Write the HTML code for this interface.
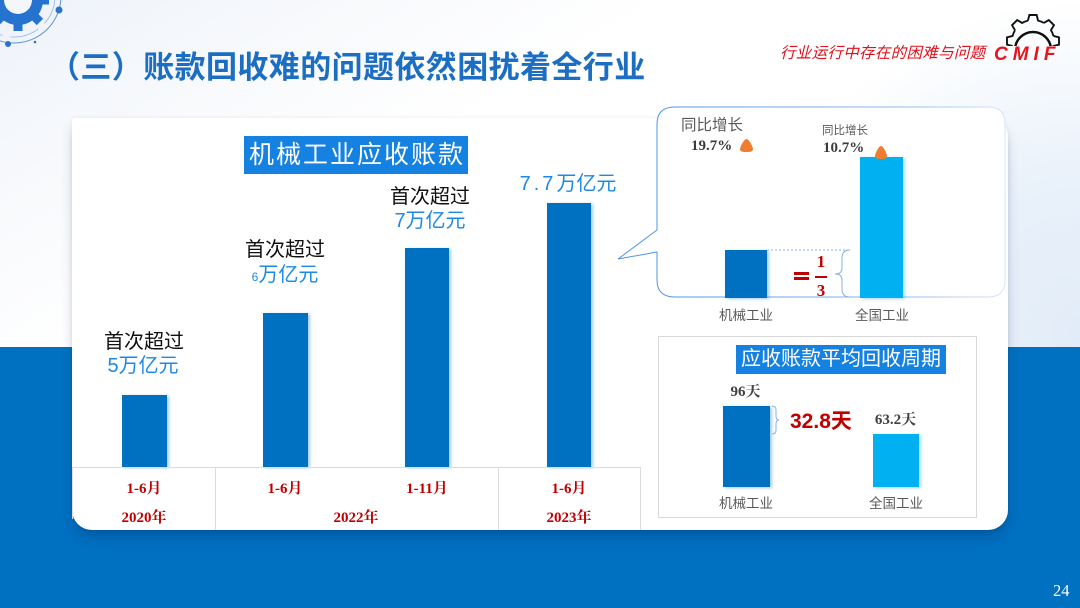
<!DOCTYPE html>
<html><head><meta charset="utf-8">
<style>
*{margin:0;padding:0;box-sizing:border-box}
html,body{width:1080px;height:608px;overflow:hidden}
body{position:relative;background:#fff;font-family:"Liberation Sans","Noto Sans CJK SC",sans-serif}
.a{position:absolute;white-space:nowrap;line-height:1}
.c{text-align:center}
.sf{font-family:"Liberation Serif","Noto Serif CJK SC",serif;font-weight:bold}
.bar{position:absolute;background:#0070c0;box-shadow:2px 1px 3px rgba(90,160,230,.55)}
.lbar{position:absolute;background:#00b0f0;box-shadow:2px 1px 3px rgba(90,180,240,.5)}
.ln{position:absolute;background:#dcdcdc}
.t1{font-size:20px;color:#111}
.t2{font-size:20px;color:#1e88e5}
.tb{font-size:15px;color:#c00000}
.gl{font-size:13.5px;color:#595959}
</style></head><body>
<!-- background -->
<div class="a" style="left:0;top:0;width:1080px;height:347px;background:radial-gradient(circle at 1080px 330px,#e2ecf8 0px,#e9f1fa 150px,rgba(255,255,255,0) 330px),linear-gradient(150deg,#eef3fa 0%,#f7f9fc 20%,#fff 40%)"></div>
<div class="a" style="left:0;top:347px;width:1080px;height:261px;background:#0070c0"></div>

<!-- top-left decoration -->
<svg class="a" style="left:0;top:0" width="90" height="60">
 <circle cx="14" cy="-4" r="47" fill="none" stroke="#5d93dc" stroke-width="1"/>
 <circle cx="14" cy="-4" r="41" fill="none" stroke="#8db4e8" stroke-width="0.8" stroke-dasharray="30 8"/>
 <g transform="translate(18,0)" fill="#2672cf">
  <circle r="25"/>
  <rect x="-4.5" y="-31" width="9" height="9" transform="rotate(0)"/>
  <rect x="-4.5" y="-31" width="9" height="9" transform="rotate(45)"/>
  <rect x="-4.5" y="-31" width="9" height="9" transform="rotate(90)"/>
  <rect x="-4.5" y="-31" width="9" height="9" transform="rotate(135)"/>
  <rect x="-4.5" y="-31" width="9" height="9" transform="rotate(180)"/>
  <rect x="-4.5" y="-31" width="9" height="9" transform="rotate(225)"/>
  <rect x="-4.5" y="-31" width="9" height="9" transform="rotate(270)"/>
  <circle r="14" fill="#f3f7fc"/>
 </g>
 <circle cx="59" cy="10" r="3.5" fill="#2a72cc"/>
 <circle cx="8" cy="44" r="3" fill="#2a72cc"/>
 <circle cx="35" cy="42" r="1.3" fill="#2a72cc"/>
</svg>

<!-- title -->
<div class="a" style="left:49px;top:52px;font-size:31px;letter-spacing:0.4px;font-weight:bold;color:#1b6ec2">（三）账款回收难的问题依然困扰着全行业</div>
<div class="a" style="left:780px;top:46px;font-size:15.5px;font-style:italic;letter-spacing:0.3px;color:#e0101a">行业运行中存在的困难与问题</div>

<!-- CMIF logo -->
<svg class="a" style="left:990px;top:8px" width="90" height="60">
 <defs>
  <clipPath id="cp"><rect x="0" y="0" width="90" height="38"/></clipPath>
  <path id="tooth" d="M-4.84,-19.41 L-3.48,-24.76 L3.48,-24.76 L4.84,-19.41 A20,20 0 0 1 10.30,-17.14" fill="none" stroke="#111" stroke-width="1.8"/>
 </defs>
 <g clip-path="url(#cp)">
  <g transform="translate(43,33) scale(1.05)">
   <use href="#tooth"/>
   <use href="#tooth" transform="rotate(45)"/>
   <use href="#tooth" transform="rotate(90)"/>
   <use href="#tooth" transform="rotate(135)"/>
   <use href="#tooth" transform="rotate(180)"/>
   <use href="#tooth" transform="rotate(225)"/>
   <use href="#tooth" transform="rotate(270)"/>
   <use href="#tooth" transform="rotate(315)"/>
  </g>
  <path d="M25,42 A18,18 0 0 1 61,42" fill="none" stroke="#111" stroke-width="2.5"/>
 </g>
</svg>
<div class="a" style="left:994px;top:45px;font-size:19px;font-weight:bold;font-style:italic;letter-spacing:5px;color:#e8141c;font-family:'Liberation Sans',sans-serif">CMIF</div>

<!-- card -->
<div class="a" style="left:72px;top:118px;width:936px;height:412px;background:#fff;border-radius:3px 18px 20px 20px;box-shadow:0 0 4px rgba(0,0,0,.06),0 8px 14px -4px rgba(0,30,80,.35)"></div>

<!-- bubble -->
<svg class="a" style="left:0;top:0" width="1080" height="608">
 <defs>
  <linearGradient id="bs" x1="657" y1="0" x2="1005" y2="0" gradientUnits="userSpaceOnUse">
   <stop offset="0" stop-color="#4f95e6"/>
   <stop offset="0.7" stop-color="#8cb9ee"/>
   <stop offset="1" stop-color="#d8e6f6"/>
  </linearGradient>
 </defs>
 <path d="M675,107 H988 Q1005,107 1005,124 V280 Q1005,297 988,297 H675 Q657,297 657,280 V252 L618,259 L657,230 V124 Q657,107 675,107 Z" fill="#fff" stroke="url(#bs)" stroke-width="1"/>
 <line x1="767" y1="250" x2="850" y2="250" stroke="#8ab4e8" stroke-width="1" stroke-dasharray="2 2"/>
 <path d="M850,250 Q842,250 842,258 V268 Q842,274 835,274 Q842,274 842,280 V289 Q842,297 850,297" fill="none" stroke="#8ab0e0" stroke-width="1"/>
 <rect x="794" y="272" width="15" height="3" fill="#c00000"/>
 <rect x="794" y="277" width="15" height="3" fill="#c00000"/>
 <rect x="815" y="276" width="12" height="2" fill="#c00000"/>
</svg>

<!-- main title box -->
<div class="a c" style="left:244px;top:136px;width:224px;height:38px;line-height:38px;background:#1582e2;color:#fff;font-size:25px;letter-spacing:2px;padding-left:2px">机械工业应收账款</div>

<!-- main bars -->
<div class="bar" style="left:122px;top:395px;width:45px;height:72px"></div>
<div class="bar" style="left:263px;top:313px;width:45px;height:154px"></div>
<div class="bar" style="left:405px;top:248px;width:44px;height:219px"></div>
<div class="bar" style="left:547px;top:203px;width:44px;height:264px"></div>

<!-- main labels -->
<div class="a c t1" style="left:44px;top:332px;width:200px">首次超过</div>
<div class="a c t2" style="left:43px;top:356px;width:200px">5万亿元</div>
<div class="a c t1" style="left:185px;top:240px;width:200px">首次超过</div>
<div class="a c t2" style="left:185px;top:265px;width:200px"><span style="font-size:12px">6</span>万亿元</div>
<div class="a c t1" style="left:330px;top:187px;width:200px">首次超过</div>
<div class="a c t2" style="left:330px;top:211px;width:200px">7万亿元</div>
<div class="a c t2" style="left:468px;top:174px;width:200px"><span style="letter-spacing:3px">7.7</span>万亿元</div>

<!-- table -->
<div class="ln" style="left:72px;top:467px;width:568px;height:1px"></div>
<div class="ln" style="left:72px;top:467px;width:1px;height:52px"></div>
<div class="ln" style="left:215px;top:467px;width:1px;height:63px"></div>
<div class="ln" style="left:498px;top:467px;width:1px;height:63px"></div>
<div class="ln" style="left:640px;top:467px;width:1px;height:63px"></div>

<div class="a c sf tb" style="left:94px;top:481.5px;width:100px">1-6月</div>
<div class="a c sf tb" style="left:235px;top:481.5px;width:100px">1-6月</div>
<div class="a c sf tb" style="left:377px;top:481.5px;width:100px">1-11月</div>
<div class="a c sf tb" style="left:519px;top:481.5px;width:100px">1-6月</div>
<div class="a c sf tb" style="left:94px;top:510.5px;width:100px">2020年</div>
<div class="a c sf tb" style="left:306px;top:510.5px;width:100px">2022年</div>
<div class="a c sf tb" style="left:519px;top:510.5px;width:100px">2023年</div>

<!-- panel 1 content -->
<div class="a" style="left:681px;top:118px;font-size:15.5px;color:#595959">同比增长</div>
<div class="a sf" style="left:691px;top:138.5px;font-size:15px;color:#3a3a3a">19.7%</div>
<div class="a" style="left:822px;top:126px;font-size:11.5px;color:#595959">同比增长</div>
<div class="a sf" style="left:823px;top:141px;font-size:15px;color:#3a3a3a">10.7%</div>
<div class="bar" style="left:725px;top:250px;width:42px;height:48px"></div>
<div class="lbar" style="left:860px;top:157px;width:43px;height:141px"></div>
<svg class="a" style="left:0;top:0" width="1080" height="608">
 <path d="M746.5,139 C749,139 753,147 753,149 C753,151.5 751,152 746.5,152 C742,152 740,151.5 740,149 C740,147 744,139 746.5,139 Z" fill="#ed7d31"/>
 <path d="M881,146 C883.5,146 887,154 887,156 C887,158.5 885,159 881,159 C877,159 875,158.5 875,156 C875,154 878.5,146 881,146 Z" fill="#ed7d31"/>
</svg>
<div class="a c sf" style="left:811px;top:253px;width:20px;font-size:17px;color:#c00000">1</div>
<div class="a c sf" style="left:811px;top:281.5px;width:20px;font-size:17px;color:#c00000">3</div>
<div class="a c gl" style="left:696px;top:309px;width:100px">机械工业</div>
<div class="a c gl" style="left:832px;top:309px;width:100px">全国工业</div>

<!-- panel 2 -->
<div class="a" style="left:658px;top:336px;width:319px;height:182px;border:1px solid #d8d8d8;background:#fff"></div>
<div class="a c" style="left:736px;top:345px;width:210px;height:29px;line-height:29px;background:#1582e2;color:#fff;font-size:20px">应收账款平均回收周期</div>
<div class="a c sf" style="left:695.5px;top:384.5px;width:100px;font-size:15px;color:#404040">96天</div>
<div class="bar" style="left:723px;top:406px;width:47px;height:81px"></div>
<svg class="a" style="left:0;top:0" width="1080" height="608">
 <path d="M772,406 Q776,406 776,410 V416 Q776,420 779,420 Q776,420 776,424 V430 Q776,434 772,434" fill="none" stroke="#8ab0e0" stroke-width="1"/>
</svg>
<div class="a" style="left:790px;top:410.5px;font-size:21px;font-weight:bold;color:#c00000">32.8天</div>
<div class="a c sf" style="left:845.5px;top:412.5px;width:100px;font-size:15px;color:#404040">63.2天</div>
<div class="lbar" style="left:873px;top:434px;width:46px;height:53px"></div>
<div class="a c gl" style="left:696px;top:497px;width:100px">机械工业</div>
<div class="a c gl" style="left:846px;top:497px;width:100px">全国工业</div>

<!-- page number -->
<div class="a" style="left:1053px;top:583px;font-size:16.5px;color:#fff;font-family:'Liberation Serif',serif">24</div>
</body></html>
